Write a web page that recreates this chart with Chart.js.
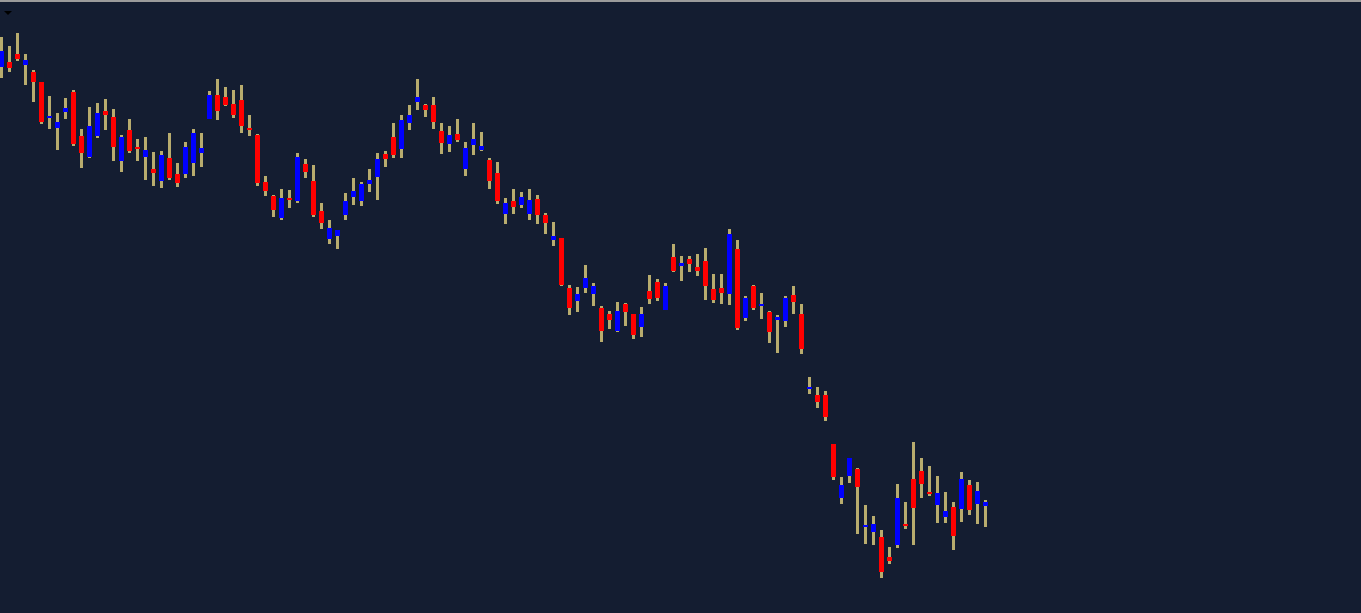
<!DOCTYPE html>
<html>
<head>
<meta charset="utf-8">
<title>Candles</title>
<script src="https://cdn.jsdelivr.net/npm/chart.js@4.4.1/dist/chart.umd.min.js"></script>
<style>
    html, body { margin: 0; padding: 0; background: #141d31; overflow: hidden; }
    #wrap { position: relative; width: 1361px; height: 613px; }
    #topLine { position: absolute; left: 0; top: 0; width: 1361px; height: 2px; background: #9b9b9b; }
    #menuArrow {
        position: absolute; left: 4px; top: 11px; width: 0; height: 0;
        border-left: 4px solid transparent; border-right: 4px solid transparent;
        border-top: 4px solid #000;
    }
</style>
</head>
<body>
<div id="wrap">
    <canvas id="chart" width="1361" height="613"></canvas>
    <div id="topLine"></div>
    <div id="menuArrow"></div>
</div>
<script>
// OHLC values, one entry per bar
const opens = [546, 551, 559, 548, 541, 531, 495, 485, 501, 521, 477, 456, 477, 502, 496, 452, 483, 466, 456, 444,
    432, 455, 439, 439, 450, 460, 494, 518, 516, 509, 513, 485, 478, 431, 417, 395, 415, 412, 449, 432,
    402, 374, 377, 398, 416, 412, 429, 436, 459, 476, 464, 490, 511, 508, 508, 482, 469, 479, 444, 468,
    463, 453, 440, 399, 412, 408, 399, 414, 398, 373, 375, 325, 312, 325, 319, 305, 299, 282, 309, 299,
    286, 322, 331, 303, 356, 347, 354, 346, 352, 324, 325, 319, 364, 295, 327, 307, 301, 293, 292, 318,
    299, 224, 218, 218, 169, 115, 137, 144, 86, 81, 76, 56, 68, 89, 134, 142, 121, 108, 96, 106,
    104, 128, 109, 107];
const highs = [576, 567, 580, 559, 543, 531, 517, 500, 515, 523, 484, 506, 510, 514, 504, 478, 494, 474, 476, 461,
    462, 480, 450, 471, 484, 480, 522, 534, 526, 523, 528, 498, 479, 437, 418, 424, 423, 460, 454, 448,
    410, 393, 383, 420, 435, 431, 444, 460, 462, 490, 498, 508, 534, 509, 516, 490, 487, 494, 471, 490,
    481, 455, 451, 415, 424, 421, 424, 418, 400, 391, 375, 328, 326, 348, 330, 307, 302, 311, 310, 299,
    306, 338, 334, 330, 369, 357, 357, 359, 365, 339, 339, 384, 373, 317, 328, 320, 302, 298, 317, 327,
    309, 236, 226, 222, 169, 136, 155, 145, 108, 97, 83, 66, 129, 111, 171, 155, 147, 137, 121, 111,
    141, 133, 131, 113];
const lows = [535, 541, 552, 528, 511, 489, 484, 463, 494, 467, 445, 455, 475, 483, 452, 441, 460, 452, 433, 427,
    425, 433, 426, 435, 437, 446, 494, 493, 507, 495, 480, 477, 427, 417, 396, 393, 405, 410, 435, 396,
    384, 369, 364, 393, 408, 407, 421, 413, 446, 455, 455, 483, 503, 496, 484, 459, 461, 471, 437, 458,
    462, 424, 409, 389, 399, 405, 393, 389, 379, 367, 327, 298, 301, 320, 307, 271, 284, 281, 287, 274,
    276, 309, 312, 303, 341, 332, 341, 337, 313, 310, 309, 308, 283, 292, 303, 294, 270, 260, 286, 299,
    259, 219, 205, 192, 133, 109, 130, 79, 69, 68, 35, 49, 65, 84, 68, 115, 117, 90, 90, 63,
    91, 98, 89, 86];
const closes = [562, 545, 554, 553, 531, 491, 497, 491, 505, 469, 460, 487, 500, 498, 466, 476, 462, 464, 463, 440,
    458, 435, 430, 466, 480, 465, 518, 502, 508, 498, 487, 483, 430, 422, 403, 415, 413, 456, 441, 398,
    390, 385, 383, 412, 422, 429, 433, 454, 454, 458, 493, 498, 516, 503, 491, 470, 478, 473, 465, 474,
    467, 432, 412, 410, 406, 416, 413, 398, 390, 377, 328, 305, 319, 335, 327, 282, 293, 302, 301, 278,
    299, 314, 315, 327, 342, 350, 349, 342, 327, 313, 320, 379, 285, 315, 305, 309, 281, 296, 315, 311,
    264, 226, 211, 196, 136, 128, 155, 126, 88, 89, 41, 52, 115, 87, 105, 129, 119, 120, 102, 77,
    134, 103, 122, 111];

const upColor = '#0000ff';
const downColor = '#ff0000';
const wickColor = '#b8ac6e';

function buildSeries() {
    const wicks = [];
    const bodies = [];
    const bodyColors = [];
    for (let i = 0; i < opens.length; i++) {
        wicks.push({ x: i, y: [lows[i], highs[i]] });
        bodies.push({ x: i, y: [opens[i], closes[i]] });
        bodyColors.push(closes[i] >= opens[i] ? upColor : downColor);
    }
    return { wicks, bodies, bodyColors };
}

const { wicks, bodies, bodyColors } = buildSeries();
const ctx = document.getElementById('chart').getContext('2d');

const chart = new Chart(ctx, {
    type: 'bar',
    data: {
        datasets: [{
            label: 'Body',
            data: bodies,
            backgroundColor: bodyColors,
            barThickness: 5,
            borderWidth: 0,
            inflateAmount: 0,
            grouped: false,
            order: 0
        }, {
            label: 'Wick',
            data: wicks,
            backgroundColor: wickColor,
            barThickness: 3,
            borderWidth: 0,
            inflateAmount: 0,
            grouped: false,
            order: 1
        }]
    },
    options: {
        responsive: false,
        animation: false,
        devicePixelRatio: 1,
        layout: { padding: 0 },
        plugins: {
            legend: { display: false },
            title: { display: false },
            tooltip: { enabled: false }
        },
        scales: {
            // one bar every 8px, first centred at 1.5px
            x: { type: 'linear', display: false, offset: false, min: -0.1875, max: 169.9375 },
            y: { type: 'linear', display: false, min: 0, max: 613 }
        }
    }
});
</script>
</body>
</html>
